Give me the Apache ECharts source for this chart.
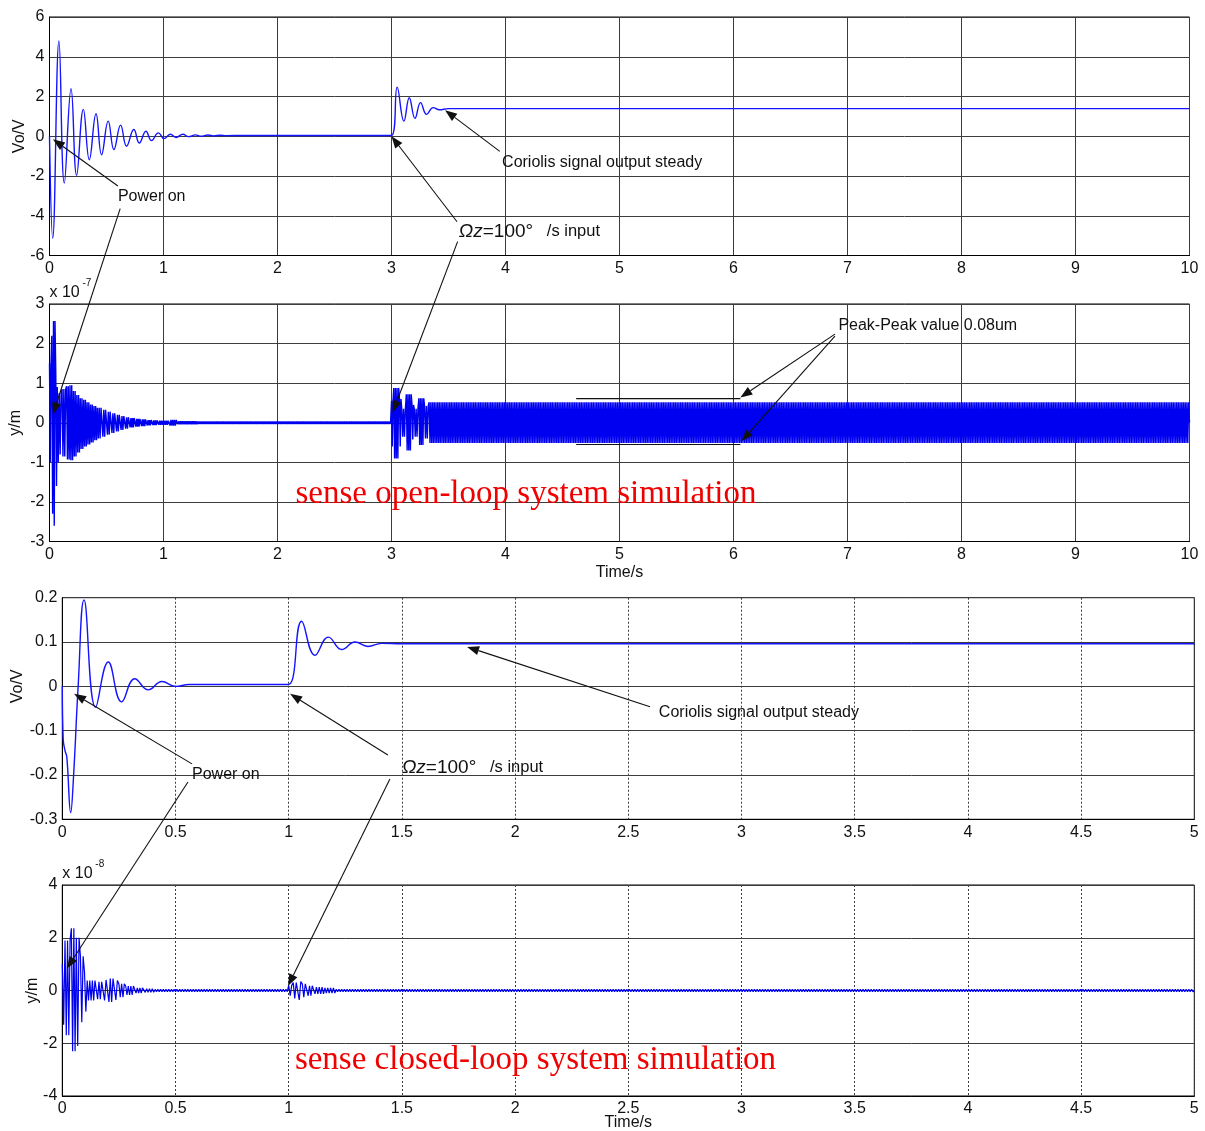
<!DOCTYPE html>
<html>
<head>
<meta charset="utf-8">
<script src="https://cdn.jsdelivr.net/npm/echarts@6.0.0/dist/echarts.min.js"></script>
<style>
  html, body { margin: 0; padding: 0; background: #fff; }
  #chart { width: 1205px; height: 1131px; }
</style>
</head>
<body>
<div id="chart"></div>
<script>
// ---- Open-loop sense output voltage Vo (V): turning points of the trace ----
const openVoTime = [0, 0.028, 0.083, 0.13, 0.189, 0.238, 0.297, 0.349, 0.408, 0.457, 0.515, 0.565, 0.624, 0.676, 0.74, 0.788, 0.846, 0.895, 0.955, 1.005, 1.06, 1.11, 1.17, 1.22, 1.28, 1.33, 1.39, 1.44, 1.5, 1.55, 1.7, 2.9, 3.0, 3.05, 3.109, 3.156, 3.206, 3.255, 3.308, 3.366, 3.42, 3.5, 10];
const openVo     = [0, -5.13, 4.8, -2.36, 2.39, -1.97, 1.35, -1.18, 1.13, -0.93, 0.76, -0.67, 0.56, -0.5, 0.34, -0.34, 0.25, -0.22, 0.17, -0.12, 0.1, -0.06, 0.1, -0.02, 0.07, 0.0, 0.06, 0.02, 0.05, 0.03, 0.04, 0.04, 0.04, 2.47, 0.76, 1.94, 0.9, 1.69, 1.1, 1.44, 1.33, 1.39, 1.39];

// ---- Open-loop sense displacement y (x1e-7 m): oscillation envelope per time span ----
const openYStart = [0, 0.02, 0.035, 0.055, 0.068, 0.085, 0.11, 0.15, 0.18, 0.21, 0.24, 0.27, 0.3, 0.33, 0.36, 0.39, 0.42, 0.46, 0.5, 0.54, 0.58, 0.62, 0.66, 0.7, 0.75, 0.8, 0.85, 0.9, 0.95, 1.05, 1.12, 1.3,
                    3.0, 3.02, 3.07, 3.09, 3.13, 3.18, 3.2, 3.24, 3.29, 3.33];
const openYUpper = [1.5, 2.2, 2.57, 1.3, 0.9, 0.75, 0.85, 0.92, 0.95, 0.8, 0.7, 0.62, 0.58, 0.52, 0.46, 0.42, 0.38, 0.33, 0.28, 0.24, 0.2, 0.17, 0.14, 0.12, 0.1, 0.085, 0.07, 0.06, 0.05, 0.07, 0.04, 0.03,
                    0.55, 0.88, 0.6, 0.35, 0.72, 0.45, 0.35, 0.62, 0.42, 0.52];
const openYLower = [-1.0, -2.3, -2.6, -1.6, -1.0, -0.8, -0.85, -0.93, -0.95, -0.85, -0.75, -0.66, -0.6, -0.55, -0.5, -0.44, -0.4, -0.35, -0.3, -0.26, -0.22, -0.18, -0.15, -0.12, -0.1, -0.085, -0.07, -0.06, -0.05, -0.07, -0.04, -0.03,
                    -0.6, -0.9, -0.6, -0.35, -0.7, -0.42, -0.35, -0.56, -0.4, -0.51];
const openYEnd = 10;
const openYHalfPeriod = 0.0075;

// ---- Closed-loop sense output voltage Vo (V): turning points ----
const closedVoTime = [0, 0.004, 0.012, 0.02, 0.037, 0.05, 0.07, 0.096, 0.147, 0.203, 0.262, 0.32, 0.38, 0.44, 0.5, 0.56, 0.95, 1.0, 1.057, 1.116, 1.175, 1.234, 1.293, 1.35, 1.41, 1.5, 5];
const closedVo     = [0, -0.12, -0.145, -0.16, -0.285, -0.2, 0.0, 0.195, -0.047, 0.055, -0.035, 0.017, -0.008, 0.011, 0.0, 0.004, 0.004, 0.004, 0.147, 0.07, 0.111, 0.083, 0.1, 0.09, 0.097, 0.096, 0.096];

// ---- Closed-loop sense displacement y (x1e-8 m): oscillation envelope per time span ----
const closedYStart = [0, 0.012, 0.04, 0.062, 0.08, 0.098, 0.11, 0.15, 0.18, 0.2, 0.23, 0.25, 0.28, 0.32, 0.36, 0.41, 1.0, 1.02, 1.04, 1.06, 1.08, 1.11, 1.16, 1.21];
const closedYUpper = [1.0, 1.9, 2.36, 2.0, 1.3, 0.7, 0.38, 0.33, 0.4, 0.45, 0.38, 0.25, 0.17, 0.1, 0.07, 0.04, 0.2, 0.3, 0.34, 0.25, 0.18, 0.13, 0.1, 0.05];
const closedYLower = [-1.3, -1.7, -2.3, -2.1, -1.2, -0.8, -0.38, -0.33, -0.38, -0.43, -0.36, -0.25, -0.17, -0.1, -0.07, -0.04, -0.2, -0.3, -0.36, -0.25, -0.2, -0.13, -0.1, -0.05];
const closedYEnd = 5;
const closedYHalfPeriod = 0.006;

// ---- Axis ranges and tick steps ----
const xRangeOpen = [0, 10], xStepOpen = 1;
const xRangeClosed = [0, 5], xStepClosed = 0.5;
const yRangeOpenVo = [-6, 6], yStepOpenVo = 2;
const yRangeOpenY = [-3, 3], yStepOpenY = 1;
const yRangeClosedVo = [-0.3, 0.2], yStepClosedVo = 0.1;
const yRangeClosedY = [-4, 4], yStepClosedY = 2;

const FONT = '"Liberation Sans", Arial, sans-serif';
const SERIF = '"Liberation Serif", "Times New Roman", serif';
const INK = '#111';

function pairs(ts, vs) { return ts.map((t, i) => [t, vs[i]]); }

// Fast carrier drawn as alternating extremes between each span's upper and lower bound
function oscillation(starts, upper, lower, tEnd, halfPeriod) {
  const pts = [];
  for (let i = 0; i < starts.length; i++) {
    const t1 = i + 1 < starts.length ? starts[i + 1] : tEnd;
    const n = Math.max(1, Math.round((t1 - starts[i]) / halfPeriod));
    for (let k = 0; k < n; k++) {
      pts.push([starts[i] + (t1 - starts[i]) * k / n, k % 2 ? lower[i] : upper[i]]);
    }
  }
  const last = upper.length - 1;
  pts.push([tEnd, (upper[last] + lower[last]) / 2]);
  return pts;
}

const layout = [
  { left: 49.5, top: 17, width: 1140, height: 238.5 },
  { left: 49.5, top: 304, width: 1140, height: 237.5 },
  { left: 62.3, top: 597.7, width: 1132, height: 221.6 },
  { left: 62.3, top: 885, width: 1132, height: 211 }
];

function fmt(v) { return String(Math.round(v * 1000) / 1000); }

function xAxis(i, range, step, dotted) {
  return {
    type: 'value', gridIndex: i, min: range[0], max: range[1], interval: step,
    axisLine: { show: true, onZero: false, lineStyle: { color: '#000', width: 1 } },
    axisTick: { show: false },
    axisLabel: { fontFamily: FONT, fontSize: 16, color: INK, margin: 5, formatter: fmt },
    splitLine: { show: true, lineStyle: { color: '#3c3c3c', width: 1, type: dotted ? [2, 2] : 'solid' } }
  };
}
function yAxis(i, range, step) {
  return {
    type: 'value', gridIndex: i, min: range[0], max: range[1], interval: step,
    axisLine: { show: true, onZero: false, lineStyle: { color: '#000', width: 1 } },
    axisTick: { show: false },
    axisLabel: { fontFamily: FONT, fontSize: 16, color: INK, margin: 5, formatter: fmt },
    splitLine: { show: true, lineStyle: { color: '#3c3c3c', width: 1 } }
  };
}

const chart = echarts.init(document.getElementById('chart'), null, { renderer: 'canvas' });

chart.setOption({
  animation: false,
  backgroundColor: '#fff',
  grid: layout.map(g => Object.assign({ show: true, borderColor: '#000', borderWidth: 1, backgroundColor: 'transparent' }, g)),
  xAxis: [
    xAxis(0, xRangeOpen, xStepOpen, false),
    xAxis(1, xRangeOpen, xStepOpen, false),
    xAxis(2, xRangeClosed, xStepClosed, true),
    xAxis(3, xRangeClosed, xStepClosed, true)
  ],
  yAxis: [
    yAxis(0, yRangeOpenVo, yStepOpenVo),
    yAxis(1, yRangeOpenY, yStepOpenY),
    yAxis(2, yRangeClosedVo, yStepClosedVo),
    yAxis(3, yRangeClosedY, yStepClosedY)
  ],
  series: [
    { type: 'line', xAxisIndex: 0, yAxisIndex: 0, data: pairs(openVoTime, openVo),
      symbol: 'none', smooth: 0.45, lineStyle: { color: '#1414ff', width: 1.4 } },
    { type: 'line', xAxisIndex: 1, yAxisIndex: 1,
      data: oscillation(openYStart, openYUpper, openYLower, openYEnd, openYHalfPeriod),
      symbol: 'none', smooth: false, lineStyle: { color: '#0000f0', width: 1.4 } },
    { type: 'line', xAxisIndex: 2, yAxisIndex: 2, data: pairs(closedVoTime, closedVo),
      symbol: 'none', smooth: 0.45, lineStyle: { color: '#1414ff', width: 1.4 } },
    { type: 'line', xAxisIndex: 3, yAxisIndex: 3,
      data: oscillation(closedYStart, closedYUpper, closedYLower, closedYEnd, closedYHalfPeriod),
      symbol: 'none', smooth: false, lineStyle: { color: '#0000f0', width: 1.2 } }
  ]
});

// ---- Annotations, placed in data coordinates of each panel ----
const P = (g, t, v) => chart.convertToPixel({ gridIndex: g }, [t, v]);

function arrow(p0, p1) {
  const dx = p1[0] - p0[0], dy = p1[1] - p0[1], len = Math.hypot(dx, dy);
  const ux = dx / len, uy = dy / len, hl = 12, hw = 4.5;
  const bx = p1[0] - ux * hl, by = p1[1] - uy * hl;
  return [
    { type: 'line', silent: true, z: 20, shape: { x1: p0[0], y1: p0[1], x2: bx, y2: by },
      style: { stroke: INK, lineWidth: 1.1 } },
    { type: 'polygon', silent: true, z: 20,
      shape: { points: [[p1[0], p1[1]], [bx - uy * hw, by + ux * hw], [bx + uy * hw, by - ux * hw]] },
      style: { fill: INK } }
  ];
}
function label(p, text, opts) {
  return { type: 'text', silent: true, z: 21, x: p[0], y: p[1],
    style: Object.assign({ text, fontFamily: FONT, fontSize: 16, fill: INK, align: 'left', verticalAlign: 'middle' }, opts || {}) };
}
function omegaLabel(p) {
  return { type: 'text', silent: true, z: 21, x: p[0], y: p[1],
    style: { text: '{a|Ωz}{b|=100°}{c|   /s input}', fill: INK, align: 'left', verticalAlign: 'middle',
      rich: {
        a: { fontFamily: FONT, fontSize: 19, fontStyle: 'italic', fill: INK },
        b: { fontFamily: FONT, fontSize: 19, fill: INK },
        c: { fontFamily: FONT, fontSize: 16.5, fill: INK }
      } } };
}
function hline(p0, p1) {
  return { type: 'line', silent: true, z: 20, shape: { x1: p0[0], y1: p0[1], x2: p1[0], y2: p1[1] },
    style: { stroke: INK, lineWidth: 1.2 } };
}
function axisName(g, dx, text) {
  const p = P(g, 0, 0);
  return { type: 'text', silent: true, z: 21, x: layout[g].left - dx, y: p[1], rotation: Math.PI / 2,
    style: { text, fontFamily: FONT, fontSize: 16, fill: INK, align: 'center', verticalAlign: 'middle' } };
}
function scaleNote(g, exp) {
  const x0 = layout[g].left, y0 = layout[g].top;
  return [
    { type: 'text', silent: true, z: 21, x: x0, y: y0 - 11,
      style: { text: 'x 10', fontFamily: FONT, fontSize: 16, fill: INK, align: 'left', verticalAlign: 'middle' } },
    { type: 'text', silent: true, z: 21, x: x0 + 33, y: y0 - 21,
      style: { text: exp, fontFamily: FONT, fontSize: 10, fill: INK, align: 'left', verticalAlign: 'middle' } }
  ];
}
function timeLabel(g, gap) {
  const p = P(g, (g < 2 ? xRangeOpen[1] : xRangeClosed[1]) / 2, 0);
  return { type: 'text', silent: true, z: 21, x: p[0], y: layout[g].top + layout[g].height + gap,
    style: { text: 'Time/s', fontFamily: FONT, fontSize: 16, fill: INK, align: 'center', verticalAlign: 'middle' } };
}

const graphics = [].concat(
  // open-loop voltage panel
  label(P(0, 0.6, -3.03), 'Power on'),
  arrow(P(0, 0.6, -2.5), P(0, 0.03, -0.15)),
  arrow(P(0, 0.62, -3.64), P(1, 0.03, 0.21)),
  label(P(0, 3.97, -1.31), 'Coriolis signal output steady'),
  arrow(P(0, 3.95, -0.76), P(0, 3.47, 1.31)),
  omegaLabel(P(0, 3.59, -4.8)),
  arrow(P(0, 3.575, -4.3), P(0, 3.0, 0.0)),
  arrow(P(0, 3.58, -5.3), P(1, 3.01, 0.26)),
  // open-loop displacement panel
  label(P(1, 6.92, 2.46), 'Peak-Peak value 0.08um'),
  arrow(P(1, 6.89, 2.24), P(1, 6.06, 0.64)),
  arrow(P(1, 6.89, 2.19), P(1, 6.07, -0.47)),
  hline(P(1, 4.62, 0.61), P(1, 6.06, 0.61)),
  hline(P(1, 4.62, -0.55), P(1, 6.06, -0.55)),
  label(P(1, 4.18, -1.8), 'sense open-loop system simulation',
    { fontFamily: SERIF, fontSize: 33, fill: '#f00000', align: 'center' }),
  // closed-loop voltage panel
  label(P(2, 0.573, -0.2), 'Power on'),
  arrow(P(2, 0.573, -0.175), P(2, 0.052, -0.017)),
  arrow(P(2, 0.555, -0.216), P(3, 0.02, 0.83)),
  omegaLabel(P(2, 1.5, -0.184)),
  arrow(P(2, 1.438, -0.155), P(2, 1.006, -0.017)),
  arrow(P(2, 1.447, -0.209), P(3, 0.997, 0.17)),
  label(P(2, 2.635, -0.06), 'Coriolis signal output steady'),
  arrow(P(2, 2.596, -0.046), P(2, 1.788, 0.089)),
  // closed-loop displacement panel
  label(P(3, 2.09, -2.66), 'sense closed-loop system simulation',
    { fontFamily: SERIF, fontSize: 33, fill: '#f00000', align: 'center' }),
  // axis names and scale notes
  axisName(0, 29.5, 'Vo/V'),
  axisName(1, 33.5, 'y/m'),
  axisName(2, 44.3, 'Vo/V'),
  axisName(3, 29.3, 'y/m'),
  scaleNote(1, '-7'),
  scaleNote(3, '-8'),
  timeLabel(1, 31),
  timeLabel(3, 27)
);

chart.setOption({ graphic: { elements: graphics } });
</script>
</body>
</html>
